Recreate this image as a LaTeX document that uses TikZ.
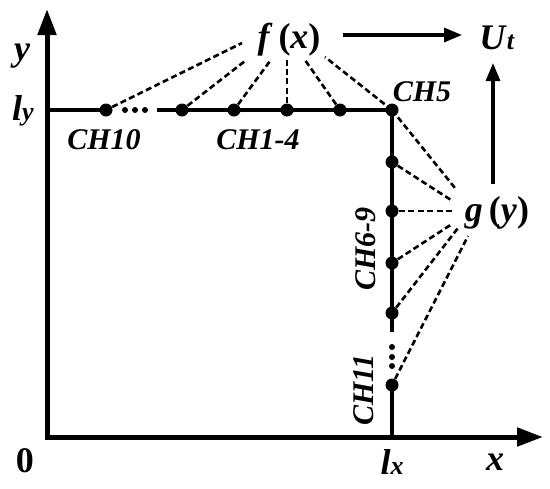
\documentclass[tikz,border=0pt]{standalone}
\usepackage{fontspec}
\setmainfont{Liberation Serif}
\usetikzlibrary{arrows.meta, calc}

\begin{document}
\begin{tikzpicture}[
    x=0.5pt, y=-0.5pt,
    axis/.style={line width=2.5pt, -{Triangle[length=13pt, width=9pt]}},
    wire/.style={line width=2pt},
    flow/.style={line width=1.6pt, -{Triangle[length=9pt, width=7pt]}},
    link/.style={line width=1.3pt, dash pattern=on 3pt off 1.7pt},
    chdot/.style={circle, fill=black, inner sep=0pt, minimum size=6.5pt},
    gapdot/.style={circle, fill=black, inner sep=0pt, minimum size=3pt},
    lab/.style={font=\fontsize{15}{16}\selectfont\bfseries\itshape, inner sep=0pt},
    big/.style={font=\fontsize{18}{19}\selectfont\bfseries, inner sep=0pt} ]

    \useasboundingbox (0,0) rectangle (550,488);

    % Axes
    \coordinate (O) at (47,437);
    \coordinate (xend) at (543,437);
    \coordinate (yend) at (47,9);
    \draw[axis] ([xshift=-1.25pt]O) -- (xend);
    \draw[axis] ([yshift=-1.25pt]O) -- (yend);

    % Channel points on the top edge
    \node[chdot] (ch10) at (106,110) {};
    \node[chdot] (ch1) at (182,110) {};
    \node[chdot] (ch2) at (234,110) {};
    \node[chdot] (ch3) at (287,110) {};
    \node[chdot] (ch4) at (340,110) {};
    \node[chdot] (ch5) at (392,110) {};
    \foreach \px [count=\i] in {125,135,145}
        \node[gapdot] (hgap\i) at (\px,110) {};

    % Channel points on the right edge
    \node[chdot] (ch6) at (392,162) {};
    \node[chdot] (ch7) at (392,211) {};
    \node[chdot] (ch8) at (392,263) {};
    \node[chdot] (ch9) at (392,313) {};
    \node[chdot] (ch11) at (392,385) {};
    \foreach \py [count=\i] in {347,357,366}
        \node[gapdot] (vgap\i) at (392,\py) {};

    % Edges
    \coordinate (ly) at (47,110);
    \coordinate (hcut) at (157,110);
    \coordinate (vcut) at (392,332);
    \coordinate (lx) at (392,437);
    \draw[wire] (ly) -- (ch10.center);
    \draw[wire, line join=miter] (hcut) -- (ch5.center) -- (vcut);
    \draw[wire] (ch11.center) -- (lx);

    % Functions
    \node[big] (fx) at (289,40) {\textit{f}\,(\textit{x})};
    \node[big] (gy) at (497,213) {\textit{g}\,(\textit{y})};
    \node[big] (Ut) at (497,38) {\textit{U}{\fontsize{13}{13}\selectfont\textit{t}}};

    \draw[flow] (343,35) -- (462,35);
    \draw[flow] (493,184) -- (493,63);

    % Dashed links to f(x)
    \draw[link] (ch10) -- (242,43);
    \draw[link] (ch1) -- (245,61);
    \draw[link] (ch2) -- (270,61);
    \draw[link] (ch3) -- (287,60);
    \draw[link] (ch4) -- (305,60);
    \draw[link] (ch5.center) -- (325,57);

    % Dashed links to g(y)
    \draw[link] (ch5.center) -- (455,188);
    \draw[link] (ch6) -- (451,200);
    \draw[link] (ch7) -- (452,211);
    \draw[link] (ch8) -- (452,224);
    \draw[link] (ch9) -- (458,228);
    \draw[link] (ch11) -- (468,236);

    % Labels
    \node[lab] at (104,140) {CH10};
    \node[lab] at (258,140) {CH1-4};
    \node[lab] at (422,92) {CH5};
    \node[lab, rotate=90] at (366,249) {CH6-9};
    \node[lab, rotate=90] at (364,390) {CH11};

    \node[big, font=\fontsize{18}{19}\selectfont\bfseries\itshape] at (22,56) {y};
    \node[big] at (23,111) {\textit{l}{\fontsize{13}{13}\selectfont\textit{y}}};
    \node[big] at (25,461) {0};
    \node[big] at (392,462) {\textit{l}{\fontsize{13}{13}\selectfont\textit{x}}};
    \node[big, font=\fontsize{18}{19}\selectfont\bfseries\itshape] at (495,462) {x};

\end{tikzpicture}
\end{document}
